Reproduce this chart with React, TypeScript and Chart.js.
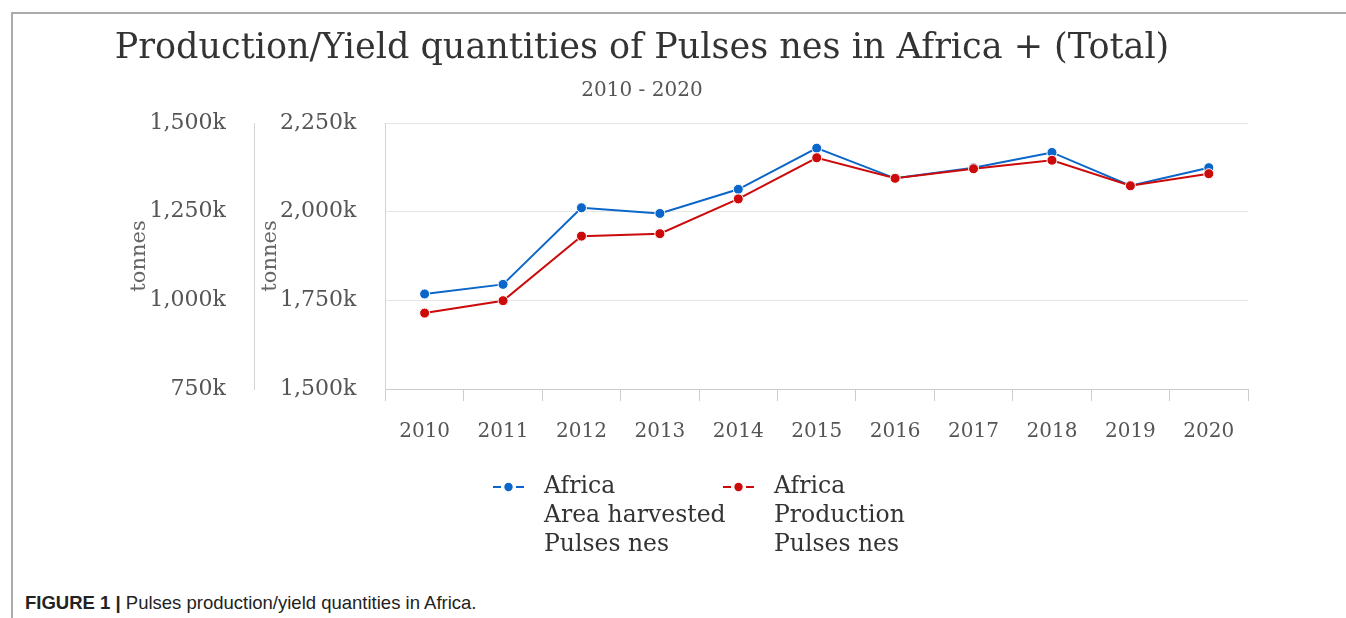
import React, { useEffect, useRef } from "react";
import { Chart, registerables } from "chart.js";

Chart.register(...registerables);

const years = ["2010", "2011", "2012", "2013", "2014", "2015", "2016", "2017", "2018", "2019", "2020"];
const areaHarvested = [1018000, 1045000, 1261000, 1245000, 1313000, 1429000, 1344000, 1374000, 1417000, 1323000, 1374000];
const production = [1714000, 1749000, 1931000, 1938000, 2036000, 2152000, 2094000, 2121000, 2145000, 2073000, 2107000];
const areaLabel = "Africa\nArea harvested\nPulses nes";
const productionLabel = "Africa\nProduction\nPulses nes";
const titleText = "Production/Yield quantities of Pulses nes in Africa + (Total)";
const subtitleText = "2010 - 2020";
const axisTitle = "tonnes";

const BLUE = "#0a66c8";
const RED = "#cc0a0a";
const SERIF = "'DejaVu Serif', serif";

const CANVAS_LEFT = 36;
const CANVAS_TOP = 13;
const CANVAS_W = 1236;
const CANVAS_H = 560;

const fmtK = (v: number | string) => (Number(v) / 1000).toLocaleString("en-US") + "k";

const legendPlugin = {
  id: "seriesLegend",
  afterDraw(chart: any) {
    const ctx = chart.ctx as CanvasRenderingContext2D;
    const starts = [493 - CANVAS_LEFT, 723 - CANVAS_LEFT];
    const y0 = 487 - CANVAS_TOP;
    chart.data.datasets.forEach((ds: any, i: number) => {
      const x = starts[i];
      const color = ds.borderColor;
      ctx.save();
      ctx.strokeStyle = color;
      ctx.lineWidth = 2;
      ctx.beginPath();
      ctx.moveTo(x, y0);
      ctx.lineTo(x + 8, y0);
      ctx.moveTo(x + 23, y0);
      ctx.lineTo(x + 31, y0);
      ctx.stroke();
      ctx.fillStyle = color;
      ctx.beginPath();
      ctx.arc(x + 15.5, y0, 4.2, 0, Math.PI * 2);
      ctx.fill();
      ctx.fillStyle = "#333";
      ctx.font = "23.5px " + SERIF;
      ctx.textBaseline = "middle";
      ctx.textAlign = "left";
      String(ds.label)
        .split("\n")
        .forEach((line: string, j: number) => ctx.fillText(line, x + 51, y0 + j * 29));
      ctx.restore();
    });
  },
};

export default function App() {
  const canvasRef = useRef<HTMLCanvasElement | null>(null);

  useEffect(() => {
    document.body.style.margin = "0";
    const canvas = canvasRef.current;
    if (!canvas) return;
    const chart = new Chart(canvas, {
      type: "line",
      data: {
        labels: years,
        datasets: [
          {
            label: areaLabel,
            data: areaHarvested,
            yAxisID: "yArea",
            borderColor: BLUE,
            backgroundColor: BLUE,
            pointBackgroundColor: BLUE,
            pointBorderColor: "#ffffff",
            pointBorderWidth: 1,
            pointRadius: 5,
            borderWidth: 2,
            tension: 0,
            order: 1,
          },
          {
            label: productionLabel,
            data: production,
            yAxisID: "yProd",
            borderColor: RED,
            backgroundColor: RED,
            pointBackgroundColor: RED,
            pointBorderColor: "#ffffff",
            pointBorderWidth: 1,
            pointRadius: 5,
            borderWidth: 2,
            tension: 0,
            order: 0,
          },
        ],
      },
      options: {
        responsive: false,
        animation: false,
        layout: { padding: { left: 0, right: 24, top: 0, bottom: 110 } },
        font: { family: SERIF },
        plugins: {
          legend: { display: false },
          tooltip: { enabled: false },
          title: {
            display: true,
            text: titleText,
            color: "#333",
            font: { family: SERIF, size: 35, weight: "normal", lineHeight: 1.2 },
            padding: { top: 15, bottom: 9 },
          },
          subtitle: {
            display: true,
            text: subtitleText,
            color: "#555",
            font: { family: SERIF, size: 20, weight: "normal", lineHeight: 1.2 },
            padding: { top: 0, bottom: 20 },
          },
        },
        scales: {
          x: {
            type: "category",
            offset: true,
            grid: {
              drawOnChartArea: false,
              drawTicks: true,
              tickLength: 12,
              color: "#cccccc",
              offset: true,
            },
            border: { display: true, color: "#cccccc", width: 1 },
            ticks: {
              color: "#555",
              font: { family: SERIF, size: 20 },
              padding: 19,
              maxRotation: 0,
              autoSkip: false,
            },
          },
          yArea: {
            type: "linear",
            position: "left",
            weight: 1,
            min: 750000,
            max: 1500000,
            ticks: {
              stepSize: 250000,
              padding: 29,
              color: "#555",
              font: { family: SERIF, size: 22 },
              callback: (v: any) => fmtK(v),
            },
            grid: { drawOnChartArea: false, drawTicks: false },
            border: { display: true, color: "#d4d4d4", width: 1 },
            title: {
              display: true,
              text: axisTitle,
              color: "#666",
              font: { family: SERIF, size: 21, lineHeight: 1.2 },
              padding: { top: 140 - CANVAS_LEFT - 12.6, bottom: -32 },
            },
          },
          yProd: {
            type: "linear",
            position: "left",
            weight: 0,
            min: 1500000,
            max: 2250000,
            ticks: {
              stepSize: 250000,
              padding: 29,
              color: "#555",
              font: { family: SERIF, size: 22 },
              callback: (v: any) => fmtK(v),
            },
            grid: { drawOnChartArea: true, drawTicks: false, color: "#e6e6e6" },
            border: { display: true, color: "#d4d4d4", width: 1 },
            title: {
              display: true,
              text: axisTitle,
              color: "#666",
              font: { family: SERIF, size: 21, lineHeight: 1.2 },
              padding: { top: 3, bottom: -32 },
            },
          },
        },
      },
      plugins: [legendPlugin],
    } as any);
    return () => chart.destroy();
  }, []);

  return (
    <div style={{ position: "relative", width: 1346, height: 618, overflow: "hidden", background: "#fff" }}>
      <div
        style={{
          position: "absolute",
          left: 11,
          top: 12,
          right: 0,
          bottom: 0,
          borderTop: "2px solid #aaa",
          borderLeft: "2px solid #aaa",
        }}
      />
      <canvas
        ref={canvasRef}
        width={CANVAS_W}
        height={CANVAS_H}
        style={{ position: "absolute", left: CANVAS_LEFT, top: CANVAS_TOP, width: CANVAS_W, height: CANVAS_H }}
      />
      <div
        style={{
          position: "absolute",
          left: 25,
          top: 592,
          fontFamily: "'Liberation Sans', Arial, sans-serif",
          fontSize: 18.5,
          color: "#222",
          whiteSpace: "nowrap",
        }}
      >
        <b>FIGURE 1</b> <b style={{ fontWeight: 700 }}>|</b> Pulses production/yield quantities in Africa.
      </div>
    </div>
  );
}
